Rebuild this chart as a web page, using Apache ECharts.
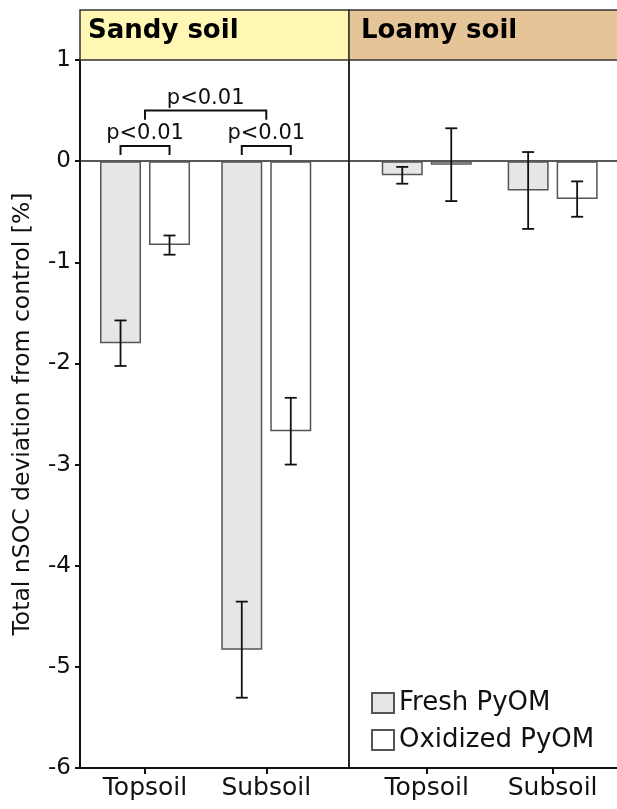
<!DOCTYPE html>
<html>
<head>
<meta charset="utf-8">
<script src="https://cdn.jsdelivr.net/npm/echarts@6/dist/echarts.min.js"></script>
<style>html,body{margin:0;padding:0;background:#fff}#c{width:617px;height:809px}</style>
</head>
<body>
<div id="c"></div>
<script>
// ---- data ----
const panels = ['Sandy soil', 'Loamy soil'];
const depths = ['Topsoil', 'Subsoil'];
const seriesNames = ['Fresh PyOM', 'Oxidized PyOM'];
// mean deviation [%] per panel: [Topsoil, Subsoil]
const sandyFresh = [-1.80, -4.83];
const sandyOxidized = [-0.83, -2.67];
const loamyFresh = [-0.14, -0.29];
const loamyOxidized = [-0.035, -0.375];
// standard errors
const sandyFreshErr = [0.225, 0.475];
const sandyOxidizedErr = [0.095, 0.33];
const loamyFreshErr = [0.083, 0.38];
const loamyOxidizedErr = [0.36, 0.175];
const yTicks = [-6, -5, -4, -3, -2, -1, 0, 1];
// significance brackets (sandy soil): [depthIndex, side] ends, level, tip drop, label
const sigFrom = [[0, -1], [1, -1], [0, 0]];
const sigTo = [[0, 1], [1, 1], [1, 0]];
const sigLevel = [0.15, 0.15, 0.50];
const sigDrop = [0.09, 0.09, 0.09];
const sigLabel = ['p<0.01', 'p<0.01', 'p<0.01'];

// ---- style / layout ----
const FONT = 'DejaVu Sans';
const BAR_W = 41;
const BAR_OFF = 24.5;
const FILL_FRESH = '#e6e6e6';
const EDGE = '#555';

const chart = echarts.init(document.getElementById('c'), null, {renderer: 'canvas'});

function errSeries(grid, fresh, freshErr, ox, oxErr) {
  const d = [];
  fresh.forEach((v, i) => d.push([i, v, freshErr[i], -1]));
  ox.forEach((v, i) => d.push([i, v, oxErr[i], 1]));
  return {
    type: 'custom', xAxisIndex: grid, yAxisIndex: grid, z: 5,
    data: d, silent: true,
    renderItem: function (params, api) {
      const c = api.value(0), m = api.value(1), e = api.value(2), s = api.value(3);
      const top = api.coord([c, m + e]);
      const bot = api.coord([c, m - e]);
      const x = top[0] + s * BAR_OFF;
      const st = {stroke: '#111', lineWidth: 1.8};
      return {type: 'group', children: [
        {type: 'line', shape: {x1: x, y1: top[1], x2: x, y2: bot[1]}, style: st},
        {type: 'line', shape: {x1: x - 6, y1: top[1], x2: x + 6, y2: top[1]}, style: st},
        {type: 'line', shape: {x1: x - 6, y1: bot[1], x2: x + 6, y2: bot[1]}, style: st}
      ]};
    }
  };
}

function barSeries(grid, name, data, fill) {
  return {
    type: 'bar', name: name, xAxisIndex: grid, yAxisIndex: grid,
    data: data, barWidth: BAR_W, barGap: '19.5%', z: 3,
    itemStyle: {color: fill, borderColor: EDGE, borderWidth: 1.5},
    emphasis: {disabled: true}
  };
}

const yBase = {type: 'value', min: -6, max: 1, interval: 1, splitLine: {show: false}};
const hiddenY = Object.assign({}, yBase, {axisLine: {show: false, onZero: false}, axisTick: {show: false}, axisLabel: {show: false}});
const hiddenXVal = {type: 'value', min: 0, max: 1, splitLine: {show: false}, axisTick: {show: false}, axisLabel: {show: false}};

const option = {
  animation: false,
  textStyle: {fontFamily: FONT},
  grid: [
    {left: 84.4, width: 242.5, top: 60, bottom: 41},   // 0 data sandy
    {left: 363.8, width: 251.8, top: 60, bottom: 41},  // 1 data loamy
    {left: 80, width: 269, top: 60, bottom: 41},       // 2 frame sandy
    {left: 349, right: 0, top: 60, bottom: 41}         // 3 frame loamy
  ],
  xAxis: [
    {gridIndex: 0, type: 'category', data: depths, axisLine: {show: false, onZero: false},
     axisTick: {show: true, alignWithLabel: true, length: 6, lineStyle: {color: '#111', width: 2}},
     axisLabel: {fontSize: 25, color: '#111', margin: 8, fontFamily: FONT}},
    {gridIndex: 1, type: 'category', data: depths, axisLine: {show: false, onZero: false},
     axisTick: {show: true, alignWithLabel: true, length: 6, lineStyle: {color: '#111', width: 2}},
     axisLabel: {fontSize: 25, color: '#111', margin: 8, fontFamily: FONT}},
    Object.assign({gridIndex: 2, position: 'bottom', axisLine: {show: true, onZero: false, lineStyle: {color: '#111', width: 2}}}, hiddenXVal),
    Object.assign({gridIndex: 3, position: 'bottom', axisLine: {show: true, onZero: false, lineStyle: {color: '#111', width: 2}}}, hiddenXVal),
    Object.assign({gridIndex: 2, position: 'top', axisLine: {show: true, onZero: true, lineStyle: {color: '#222', width: 1.6}}}, hiddenXVal),
    Object.assign({gridIndex: 3, position: 'top', axisLine: {show: true, onZero: true, lineStyle: {color: '#222', width: 1.6}}}, hiddenXVal)
  ],
  yAxis: [
    Object.assign({gridIndex: 0}, hiddenY),
    Object.assign({gridIndex: 1}, hiddenY),
    Object.assign({gridIndex: 2, position: 'left',
      name: 'Total nSOC deviation from control [%]', nameLocation: 'middle', nameGap: 45,
      nameTextStyle: {fontSize: 23.5, color: '#111', fontFamily: FONT},
      axisLine: {show: true, onZero: false, lineStyle: {color: '#111', width: 2}},
      axisTick: {show: true, length: 5, lineStyle: {color: '#111', width: 2}},
      axisLabel: {fontSize: 23, color: '#111', margin: 9, fontFamily: FONT,
        customValues: yTicks}}, yBase),
    Object.assign({gridIndex: 2, position: 'right'}, hiddenY, {axisLine: {show: true, onZero: false, lineStyle: {color: '#111', width: 1.8}}}),
    Object.assign({gridIndex: 3}, hiddenY)
  ],
  legend: {
    orient: 'vertical', left: 366, top: 685, itemWidth: 22, itemHeight: 20, itemGap: 11,
    icon: 'rect', data: seriesNames,
    textStyle: {fontSize: 26, color: '#111', fontFamily: FONT},
    selectedMode: false
  },
  graphic: [
    {type: 'rect', shape: {x: 80, y: 10, width: 269, height: 50}, style: {fill: '#fff7b3', stroke: '#333', lineWidth: 1.5}, z: 1},
    {type: 'rect', shape: {x: 349, y: 10, width: 280, height: 50}, style: {fill: '#e5c597', stroke: '#333', lineWidth: 1.5}, z: 1},
    {type: 'text', x: 88, y: 31, style: {text: panels[0], font: 'bold 26px "DejaVu Sans"', fill: '#000', verticalAlign: 'middle'}, z: 2},
    {type: 'text', x: 361, y: 31, style: {text: panels[1], font: 'bold 26px "DejaVu Sans"', fill: '#000', verticalAlign: 'middle'}, z: 2}
  ],
  series: [
    barSeries(0, seriesNames[0], sandyFresh, FILL_FRESH),
    barSeries(0, seriesNames[1], sandyOxidized, '#ffffff'),
    barSeries(1, seriesNames[0], loamyFresh, FILL_FRESH),
    barSeries(1, seriesNames[1], loamyOxidized, '#ffffff'),
    errSeries(0, sandyFresh, sandyFreshErr, sandyOxidized, sandyOxidizedErr),
    errSeries(1, loamyFresh, loamyFreshErr, loamyOxidized, loamyOxidizedErr),
    {
      type: 'custom', xAxisIndex: 0, yAxisIndex: 0, z: 6, silent: true,
      data: sigLevel.map((lv, i) => [sigFrom[i][0], lv]),
      renderItem: function (params, api) {
        const i = params.dataIndex;
        const lv = sigLevel[i];
        const p1 = api.coord([sigFrom[i][0], lv]);
        const p2 = api.coord([sigTo[i][0], lv]);
        const x1 = p1[0] + sigFrom[i][1] * BAR_OFF;
        const x2 = p2[0] + sigTo[i][1] * BAR_OFF;
        const yTip = api.coord([sigFrom[i][0], lv - sigDrop[i]])[1];
        return {type: 'group', children: [
          {type: 'polyline', shape: {points: [[x1, yTip], [x1, p1[1]], [x2, p1[1]], [x2, yTip]]},
           style: {stroke: '#111', lineWidth: 2, fill: null}},
          {type: 'text', x: (x1 + x2) / 2, y: p1[1] - 2,
           style: {text: sigLabel[i], fontSize: 21, fontFamily: FONT, fill: '#111', align: 'center', verticalAlign: 'bottom'}}
        ]};
      }
    }
  ]
};
chart.setOption(option);
</script>
</body>
</html>
